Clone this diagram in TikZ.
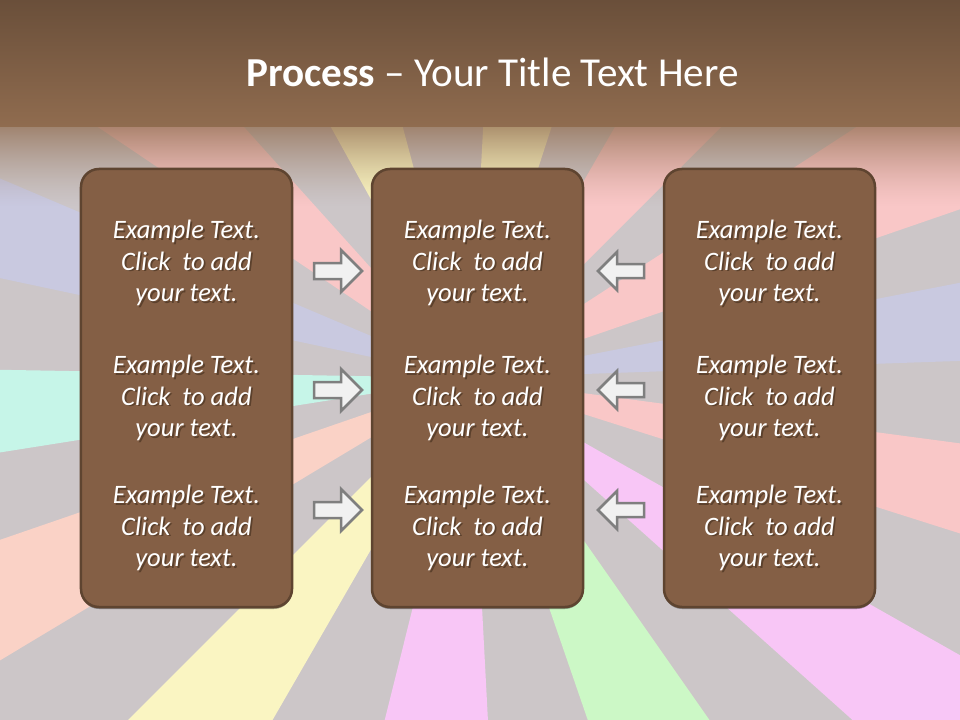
\documentclass[tikz,border=0pt]{standalone}
\usepackage{fontspec}
\setmainfont{Carlito}
\usetikzlibrary{shadows}
\definecolor{bggrey}{HTML}{CCC6C8}
\definecolor{rsalmon}{HTML}{FAD2C6}
\definecolor{rpink}{HTML}{F9C7C7}
\definecolor{rlav}{HTML}{C9C9E0}
\definecolor{ryellow}{HTML}{FAF5C2}
\definecolor{rcyan}{HTML}{C6F5E8}
\definecolor{rviolet}{HTML}{F8C6F6}
\definecolor{rgreen}{HTML}{CCF8C6}
\definecolor{tbtop}{HTML}{6A4F3A}
\definecolor{tbbot}{HTML}{906C4F}
\definecolor{panelfill}{HTML}{845F45}
\definecolor{panelline}{HTML}{5E4430}
\definecolor{arrowline}{HTML}{7F7F7F}
\definecolor{arrowfill}{HTML}{F1F1F1}
\definecolor{txtshade}{HTML}{3A2818}
\begin{document}
\begin{tikzpicture}[x=1bp,y=-1bp,
  panel/.style={draw=panelline, line width=2.5bp, fill=panelfill, rounded corners=18bp,
    minimum width=211bp, minimum height=438bp, inner sep=0pt,
    drop shadow={shadow xshift=0bp, shadow yshift=-2bp, opacity=0.35, fill=black}},
  txt/.style={text=white, align=center, inner sep=0pt,
    font=\itshape\fontsize{26.7}{32}\selectfont},
  txtsh/.style={txt, text=txtshade, opacity=0.55},
  blockarrow/.style={draw=arrowline, fill=arrowfill, line width=2.5bp, line join=miter}]
\useasboundingbox (0,0) rectangle (960,720);
\clip (0,0) rectangle (960,720);
% background sunburst
\fill[bggrey] (0,0) rectangle (960,720);
\begin{scope}[shift={(470,378)}]
\begin{scope}[yscale=-1]
\foreach \a/\b/\c in {-17.6/-7.6/rpink, 2/11/rlav, 19/33/rpink, 45/60/rpink,
   72/87/ryellow, 105/119/ryellow, 132/146/rpink, 157/168/rlav, 179/189/rcyan,
   199/211/rsalmon, 225/240/ryellow, 256/273/rviolet, 289/305/rgreen, 318.2/330.5/rviolet}
  \fill[\c] (0,0) -- (\a:1300) -- (\b:1300) -- cycle;
\end{scope}
\end{scope}
% title band and its fade
\shade[top color=tbtop, bottom color=tbbot] (0,0) rectangle (960,127);
\foreach \i [evaluate=\i as \op using {0.72*(1-\i/80)^1.4}] in {0,...,79}
  \fill[tbbot, opacity=\op] (0,127+\i) rectangle (960,128+\i);
\node[text=white, font=\fontsize{41.3}{49}\selectfont, anchor=base, inner sep=0pt] (title)
  at (492.5,87) {\textbf{Process} – Your Title Text Here};
% panels
\node[panel] (P1) at (186.5,388) {};
\node[panel] (P2) at (477.5,388) {};
\node[panel] (P3) at (769.5,388) {};
% texts
\foreach \px/\pn in {186.5/1, 477.5/2, 769.5/3}{
  \foreach \py/\rn in {263/1, 398/2, 528/3}{
    \node[txtsh] (s\pn\rn) at (\px+1.8,\py+1.8) {Example Text.\\Click\ \ to add\\your text.};
    \node[txt] (t\pn\rn) at (\px,\py) {Example Text.\\Click\ \ to add\\your text.};
  }
}
% right-pointing arrows
\foreach \y in {271,390,510}{
  \draw[blockarrow] (314,\y-8) -- (341,\y-8) -- (341,\y-21) -- (362,\y) -- (341,\y+21)
    -- (341,\y+8) -- (314,\y+8) -- cycle;
}
% left-pointing arrows
\foreach \y in {271,390,510}{
  \draw[blockarrow] (598,\y) -- (617,\y-19) -- (617,\y-7) -- (644,\y-7) -- (644,\y+7)
    -- (617,\y+7) -- (617,\y+19) -- cycle;
}
\end{tikzpicture}
\end{document}
